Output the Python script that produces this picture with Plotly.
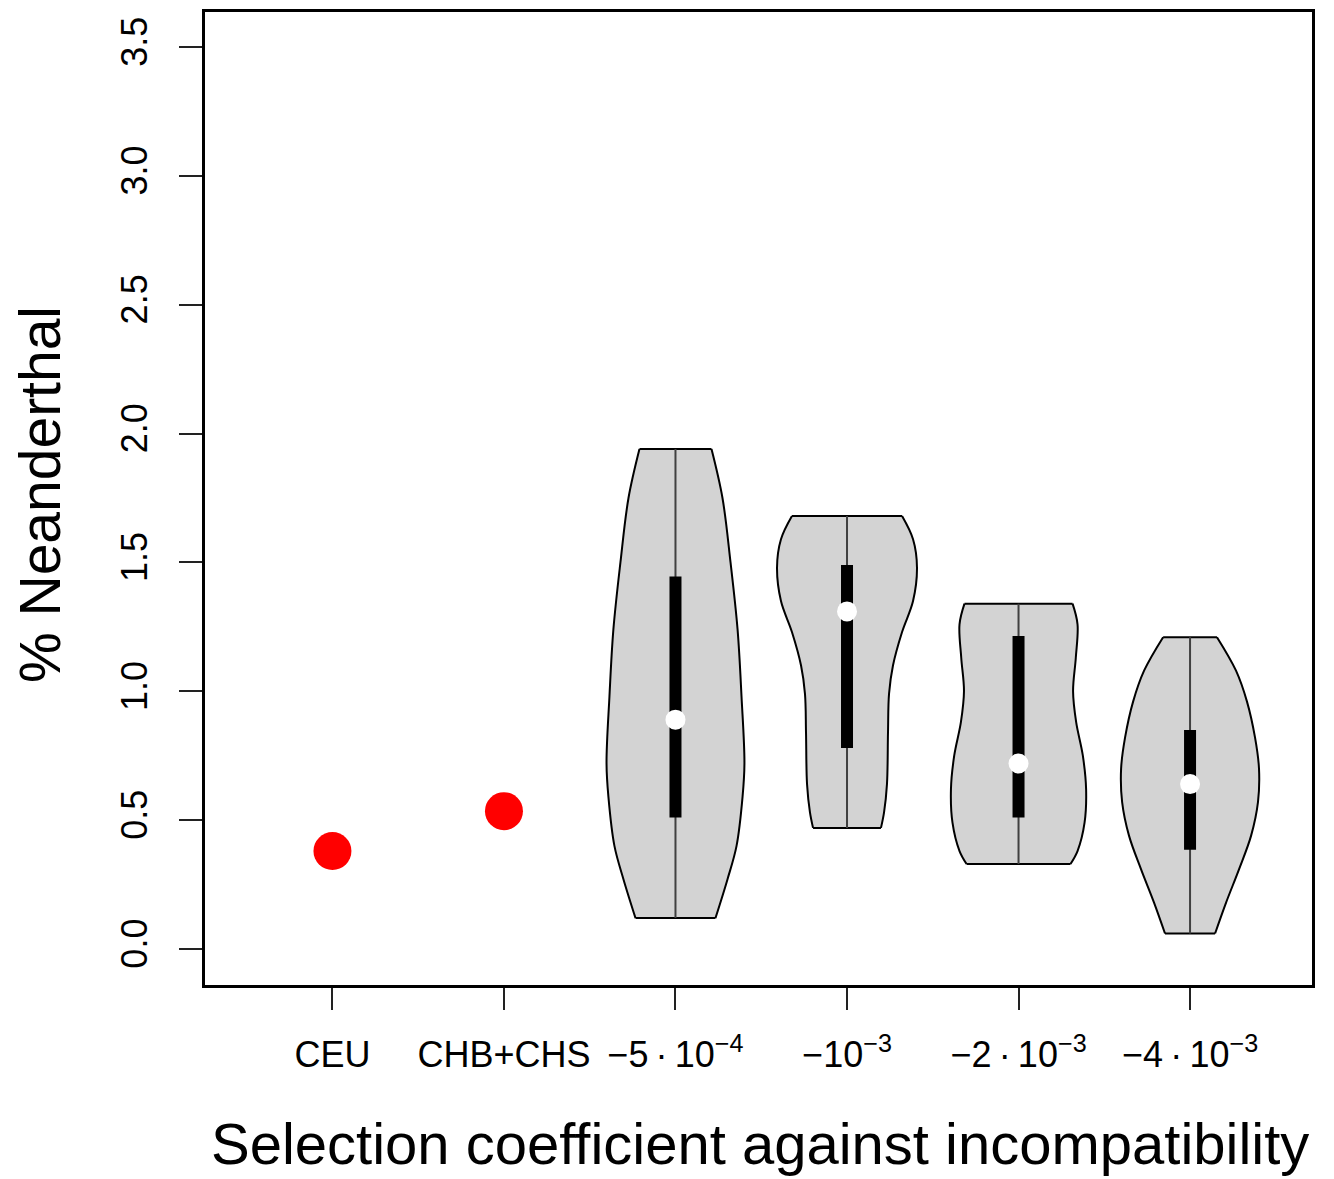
import plotly.graph_objects as go

# ---------------- data ----------------
categories = ["CEU", "CHB+CHS", "−5\u2009·\u200910<sup>−4</sup>", "−10<sup>−3</sup>",
              "−2\u2009·\u200910<sup>−3</sup>", "−4\u2009·\u200910<sup>−3</sup>"]
positions = [1, 2, 3, 4, 5, 6]

# observed values (red points)
obs_pos = [1, 2]
obs_val = [0.38, 0.535]

# violins: y levels (top -> bottom) and half-widths (x units)
v_pos = [3, 4, 5, 6]
v_levels = [
    [1.94, 1.75, 1.50, 1.24, 0.98, 0.72, 0.59, 0.40, 0.27, 0.12],
    [1.68, 1.59, 1.48, 1.35, 1.23, 1.10, 0.99, 0.84, 0.64, 0.53, 0.47],
    [1.34, 1.26, 1.13, 1.00, 0.88, 0.75, 0.62, 0.49, 0.38, 0.33],
    [1.21, 1.08, 0.96, 0.82, 0.70, 0.57, 0.44, 0.31, 0.18, 0.06],
]
v_halfwidth = [
    [0.210, 0.274, 0.321, 0.362, 0.385, 0.402, 0.391, 0.356, 0.303, 0.233],
    [0.321, 0.385, 0.408, 0.385, 0.321, 0.268, 0.245, 0.239, 0.233, 0.216, 0.198],
    [0.315, 0.344, 0.334, 0.318, 0.336, 0.375, 0.394, 0.385, 0.344, 0.303],
    [0.157, 0.268, 0.332, 0.379, 0.402, 0.396, 0.356, 0.286, 0.210, 0.146],
]
v_q1 = [0.51, 0.78, 0.51, 0.385]
v_q3 = [1.445, 1.49, 1.215, 0.85]
v_median = [0.89, 1.31, 0.72, 0.64]

y_tickvals = [0.0, 0.5, 1.0, 1.5, 2.0, 2.5, 3.0, 3.5]
y_ticktext = ["0.0", "0.5", "1.0", "1.5", "2.0", "2.5", "3.0", "3.5"]

FONT = "Liberation Sans, Arial, sans-serif"

fig = go.Figure()

for p, lv, hw, q1, q3, med in zip(v_pos, v_levels, v_halfwidth, v_q1, v_q3, v_median):
    left = [p - w for w in hw]
    right = [p + w for w in hw]
    fig.add_trace(go.Scatter(x=left, y=lv, mode="lines",
                             line=dict(color="black", width=2, shape="spline", smoothing=1),
                             hoverinfo="skip"))
    fig.add_trace(go.Scatter(x=right, y=lv, mode="lines", fill="tonextx",
                             fillcolor="#d3d3d3",
                             line=dict(color="black", width=2, shape="spline", smoothing=1),
                             hoverinfo="skip"))
    # top and bottom edges
    fig.add_trace(go.Scatter(x=[left[0], right[0]], y=[lv[0], lv[0]], mode="lines",
                             line=dict(color="black", width=2), hoverinfo="skip"))
    fig.add_trace(go.Scatter(x=[left[-1], right[-1]], y=[lv[-1], lv[-1]], mode="lines",
                             line=dict(color="black", width=2), hoverinfo="skip"))
    # whisker line
    fig.add_trace(go.Scatter(x=[p, p], y=[lv[-1], lv[0]], mode="lines",
                             line=dict(color="#404040", width=2), hoverinfo="skip"))
    # box
    fig.add_trace(go.Scatter(x=[p, p], y=[q1, q3], mode="lines",
                             line=dict(color="black", width=12), hoverinfo="skip"))
    # median
    fig.add_trace(go.Scatter(x=[p], y=[med], mode="markers",
                             marker=dict(color="white", size=20, line=dict(width=0)),
                             hoverinfo="skip"))

fig.add_trace(go.Scatter(x=obs_pos, y=obs_val, mode="markers",
                         marker=dict(color="#ff0000", size=38, line=dict(width=0)),
                         hoverinfo="skip"))

fig.update_xaxes(range=[0.257, 6.711], tickvals=positions, ticktext=categories,
                 showgrid=False, zeroline=False, showline=True, mirror=True,
                 linecolor="black", linewidth=2.5,
                 ticks="outside", ticklen=22, tickwidth=2, tickcolor="#222",
                 tickfont=dict(family=FONT, size=36, color="black"),
                 ticklabelstandoff=14)
fig.update_yaxes(range=[-0.1397, 3.636], tickvals=y_tickvals, ticktext=y_ticktext,
                 showgrid=False, zeroline=False, showline=True, mirror=True,
                 linecolor="black", linewidth=2.5,
                 ticks="outside", ticklen=23, tickwidth=2, tickcolor="#222",
                 tickangle=-90,
                 tickfont=dict(family=FONT, size=36, color="black"),
                 ticklabelstandoff=18)

fig.add_annotation(text="Selection coefficient against incompatibility",
                   xref="paper", yref="paper", x=0.5014, y=-0.1624,
                   xanchor="center", yanchor="middle", showarrow=False,
                   font=dict(family=FONT, size=58, color="black"))
fig.add_annotation(text="% Neanderthal",
                   xref="paper", yref="paper", x=-0.149, y=0.5036,
                   xanchor="center", yanchor="middle", showarrow=False, textangle=-90,
                   font=dict(family=FONT, size=57, color="black"))

fig.update_layout(width=1326, height=1171,
                  margin=dict(l=197, r=22, t=4, b=194, autoexpand=False),
                  plot_bgcolor="white", paper_bgcolor="white", showlegend=False)

fig.write_html("out.html")
